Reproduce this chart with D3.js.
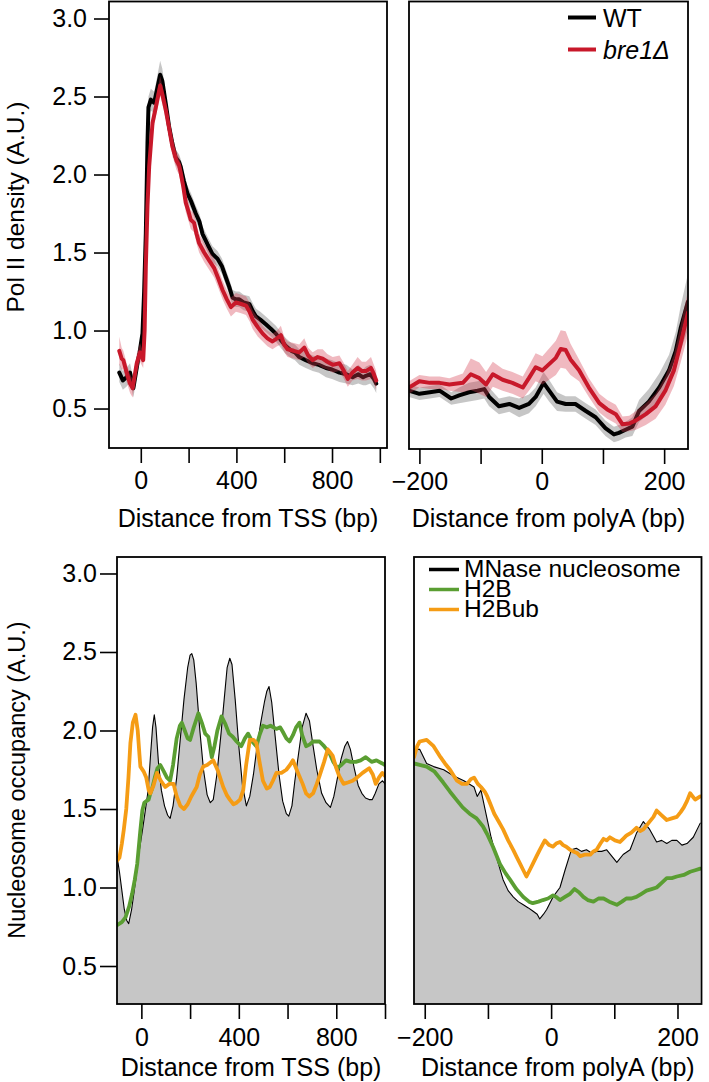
<!DOCTYPE html>
<html><head><meta charset="utf-8">
<script src="https://cdn.jsdelivr.net/npm/d3@7"></script>
<style>
html,body{margin:0;padding:0;background:#fff;}
svg{display:block;font-family:"Liberation Sans",Arial,Helvetica,sans-serif;}
</style></head>
<body>
<svg id="chart" width="709" height="1082"></svg>
<script>
// ---------------- DATA ----------------
// Pol II density around TSS: [bp, value, band half-width]
const polTssWT = [[-90,0.73,0.06],[-75,0.68,0.06],[-60,0.70,0.06],[-45,0.73,0.06],[-31,0.63,0.06],[-15,0.78,0.06],[-5,0.86,0.06],[7,0.98,0.06],[14,1.25,0.06],[21,1.62,0.06],[28,2.2,0.06],[32,2.43,0.07],[42,2.48,0.07],[56,2.46,0.07],[70,2.56,0.08],[81,2.64,0.09],[90,2.60,0.08],[105,2.45,0.06],[118,2.31,0.05],[132,2.20,0.05],[146,2.11,0.05],[160,2.08,0.05],[167,2.05,0.05],[180,1.96,0.05],[195,1.88,0.05],[210,1.83,0.05],[230,1.75,0.05],[245,1.70,0.05],[258,1.62,0.05],[280,1.55,0.05],[300,1.49,0.05],[321,1.46,0.05],[340,1.41,0.05],[356,1.34,0.05],[370,1.28,0.05],[384,1.21,0.05],[398,1.20,0.05],[412,1.20,0.05],[430,1.18,0.05],[454,1.17,0.05],[470,1.12,0.05],[482,1.09,0.05],[500,1.07,0.05],[523,1.04,0.05],[545,1.01,0.05],[565,0.98,0.05],[585,0.94,0.05],[607,0.90,0.05],[630,0.87,0.05],[645,0.86,0.05],[663,0.83,0.05],[690,0.81,0.05],[719,0.79,0.05],[745,0.78,0.05],[775,0.76,0.06],[800,0.75,0.06],[831,0.73,0.06],[860,0.72,0.06],[886,0.70,0.05],[910,0.72,0.06],[930,0.70,0.05],[942,0.71,0.06],[960,0.72,0.06],[975,0.69,0.06],[985,0.66,0.06]];
const polTssBre1 = [[-90,0.87,0.09],[-80,0.82,0.07],[-73,0.81,0.06],[-59,0.73,0.06],[-45,0.66,0.06],[-34,0.63,0.06],[-17,0.79,0.06],[-3,0.86,0.06],[10,0.81,0.05],[16,1.0,0.05],[21,1.41,0.05],[28,1.8,0.05],[35,2.05,0.05],[49,2.33,0.06],[63,2.43,0.06],[72,2.50,0.06],[81,2.57,0.06],[92,2.50,0.06],[105,2.41,0.06],[118,2.30,0.06],[132,2.18,0.06],[149,2.09,0.06],[160,2.06,0.06],[167,2.01,0.06],[178,1.92,0.06],[188,1.82,0.06],[200,1.76,0.06],[209,1.71,0.06],[223,1.69,0.06],[233,1.62,0.06],[244,1.56,0.06],[265,1.50,0.06],[286,1.45,0.06],[307,1.40,0.06],[325,1.33,0.06],[342,1.26,0.06],[360,1.20,0.06],[377,1.15,0.06],[398,1.18,0.06],[420,1.17,0.06],[440,1.16,0.06],[455,1.12,0.06],[468,1.07,0.06],[490,1.02,0.06],[510,0.98,0.05],[530,0.95,0.05],[551,0.93,0.05],[570,0.95,0.05],[586,0.97,0.06],[600,0.91,0.05],[614,0.88,0.05],[640,0.87,0.05],[663,0.86,0.05],[684,0.89,0.06],[700,0.84,0.05],[719,0.81,0.05],[740,0.83,0.05],[761,0.82,0.06],[780,0.80,0.05],[803,0.78,0.05],[831,0.79,0.05],[850,0.74,0.05],[866,0.69,0.05],[885,0.73,0.05],[907,0.76,0.07],[925,0.74,0.06],[942,0.74,0.06],[963,0.76,0.07],[975,0.72,0.06],[985,0.68,0.06]];
// Pol II density around polyA
const polPaWT = [[-217,0.62,0.04],[-200,0.60,0.04],[-183,0.61,0.04],[-167,0.62,0.04],[-148,0.57,0.04],[-135,0.59,0.05],[-119,0.61,0.06],[-105,0.62,0.06],[-94,0.63,0.06],[-86,0.58,0.06],[-70,0.52,0.05],[-53,0.535,0.05],[-37,0.51,0.06],[-21,0.535,0.06],[-10,0.58,0.06],[3,0.67,0.07],[12,0.62,0.07],[25,0.55,0.06],[39,0.535,0.05],[55,0.535,0.05],[72,0.49,0.05],[88,0.45,0.05],[104,0.38,0.05],[118,0.34,0.05],[126,0.35,0.05],[137,0.37,0.05],[148,0.39,0.06],[159,0.49,0.07],[175,0.55,0.08],[192,0.64,0.09],[208,0.75,0.10],[219,0.875,0.12],[227,1.02,0.14],[239,1.19,0.18]];
const polPaBre1 = [[-217,0.64,0.04],[-200,0.68,0.04],[-183,0.67,0.04],[-167,0.67,0.04],[-151,0.66,0.04],[-129,0.67,0.06],[-116,0.725,0.10],[-102,0.70,0.10],[-91,0.66,0.08],[-80,0.725,0.08],[-64,0.69,0.07],[-48,0.67,0.07],[-31,0.64,0.07],[-21,0.70,0.08],[-10,0.77,0.09],[1,0.75,0.09],[12,0.79,0.10],[23,0.83,0.11],[31,0.886,0.12],[39,0.88,0.12],[47,0.82,0.10],[61,0.75,0.07],[77,0.64,0.06],[94,0.54,0.06],[107,0.50,0.06],[121,0.47,0.06],[132,0.405,0.05],[143,0.41,0.05],[154,0.43,0.06],[170,0.47,0.07],[186,0.52,0.08],[202,0.62,0.09],[216,0.75,0.10],[227,0.92,0.12],[239,1.12,0.14]];
// Nucleosome occupancy around TSS: [bp, value]
const nucTssMNase = [[-100,1.20],[-90,1.10],[-80,0.98],[-70,0.86],[-60,0.79],[-52,0.77],[-40,0.86],[-23,1.05],[-10,1.22],[5,1.37],[18,1.51],[28,1.62],[38,1.85],[46,2.02],[53,2.10],[60,2.02],[70,1.80],[82,1.62],[95,1.52],[108,1.46],[118,1.44],[130,1.52],[145,1.70],[160,1.95],[175,2.20],[190,2.40],[200,2.48],[207,2.49],[215,2.45],[225,2.30],[240,2.00],[255,1.75],[270,1.59],[283,1.54],[295,1.56],[310,1.72],[325,1.95],[340,2.20],[352,2.40],[363,2.46],[372,2.42],[385,2.20],[400,1.90],[415,1.65],[431,1.52],[445,1.58],[460,1.72],[475,1.90],[490,2.05],[505,2.18],[515,2.25],[524,2.28],[535,2.18],[550,1.95],[565,1.72],[580,1.55],[595,1.47],[605,1.455],[618,1.52],[630,1.68],[645,1.85],[660,2.02],[676,2.11],[690,2.06],[705,1.90],[720,1.75],[740,1.60],[758,1.54],[776,1.51],[790,1.58],[805,1.70],[820,1.82],[835,1.90],[846,1.93],[858,1.88],[875,1.75],[890,1.65],[905,1.60],[920,1.57],[935,1.56],[948,1.56],[960,1.60],[975,1.66],[990,1.68],[1000,1.66]];
const nucTssH2B = [[-100,0.76],[-90,0.77],[-80,0.78],[-65,0.81],[-50,0.88],[-38,0.96],[-27,1.05],[-17,1.15],[-5,1.35],[4,1.49],[12,1.54],[20,1.55],[30,1.56],[37,1.60],[44,1.63],[55,1.70],[66,1.76],[78,1.78],[92,1.74],[105,1.70],[118,1.68],[130,1.78],[145,1.95],[158,2.03],[166,2.05],[178,2.00],[190,1.95],[200,1.94],[215,2.02],[234,2.11],[248,2.05],[262,1.98],[275,1.96],[289,1.83],[300,1.90],[312,2.00],[329,2.09],[345,2.04],[360,1.98],[375,1.96],[391,1.93],[410,1.90],[425,1.95],[438,1.98],[455,1.93],[472,1.90],[485,1.97],[499,2.03],[515,2.02],[530,2.03],[554,2.01],[570,2.02],[581,1.99],[595,1.95],[608,1.93],[622,1.97],[635,2.02],[649,2.05],[660,1.97],[676,1.90],[690,1.91],[705,1.93],[731,1.93],[750,1.90],[771,1.86],[788,1.80],[805,1.76],[820,1.78],[840,1.81],[860,1.80],[880,1.80],[900,1.81],[921,1.83],[945,1.80],[965,1.81],[989,1.79],[1000,1.78]];
const nucTssH2Bub = [[-100,1.17],[-90,1.19],[-80,1.28],[-72,1.37],[-62,1.50],[-53,1.70],[-45,1.92],[-35,2.05],[-24,2.10],[-15,2.0],[-8,1.85],[-4,1.77],[9,1.74],[20,1.70],[30,1.62],[37,1.60],[50,1.65],[64,1.73],[80,1.68],[98,1.64],[115,1.66],[132,1.66],[145,1.58],[160,1.52],[175,1.50],[190,1.53],[205,1.58],[227,1.64],[240,1.72],[254,1.77],[270,1.78],[295,1.81],[315,1.74],[336,1.64],[350,1.59],[363,1.56],[378,1.53],[391,1.54],[405,1.56],[418,1.62],[430,1.78],[445,1.94],[460,1.94],[472,1.92],[485,1.80],[499,1.68],[515,1.63],[527,1.64],[540,1.68],[554,1.73],[575,1.73],[595,1.75],[610,1.78],[622,1.81],[640,1.74],[662,1.66],[676,1.60],[689,1.58],[705,1.60],[720,1.66],[731,1.71],[750,1.80],[765,1.88],[775,1.86],[785,1.84],[800,1.76],[812,1.71],[830,1.66],[850,1.67],[867,1.68],[885,1.70],[908,1.73],[935,1.76],[950,1.72],[962,1.66],[975,1.70],[989,1.73],[1000,1.71]];
// Nucleosome occupancy around polyA
const nucPaMNase = [[-217,1.88],[-208,1.88],[-197,1.79],[-186,1.77],[-170,1.75],[-154,1.71],[-138,1.68],[-122,1.64],[-117,1.58],[-111,1.62],[-102,1.45],[-95,1.32],[-87,1.20],[-76,1.05],[-68,0.98],[-60,0.94],[-52,0.91],[-44,0.89],[-36,0.87],[-29,0.85],[-22,0.83],[-18,0.80],[-12,0.83],[-7,0.86],[3,0.94],[14,1.00],[22,1.11],[32,1.24],[40,1.25],[48,1.23],[56,1.24],[64,1.22],[72,1.23],[80,1.23],[88,1.24],[96,1.20],[104,1.16],[114,1.21],[125,1.24],[135,1.345],[146,1.42],[156,1.37],[167,1.29],[175,1.30],[183,1.28],[191,1.30],[199,1.30],[207,1.27],[215,1.28],[225,1.32],[236,1.41]];
const nucPaH2B = [[-217,1.79],[-197,1.77],[-185,1.74],[-171,1.67],[-160,1.61],[-150,1.56],[-140,1.51],[-129,1.47],[-118,1.44],[-108,1.39],[-100,1.33],[-92,1.26],[-81,1.15],[-72,1.09],[-65,1.05],[-55,0.99],[-44,0.94],[-35,0.91],[-29,0.90],[-20,0.91],[-13,0.92],[-5,0.93],[3,0.95],[8,0.94],[14,0.92],[22,0.94],[30,0.96],[37,0.99],[44,0.97],[51,0.94],[58,0.92],[67,0.91],[75,0.93],[83,0.93],[92,0.91],[104,0.89],[112,0.91],[119,0.93],[127,0.93],[135,0.94],[143,0.96],[151,0.98],[159,0.99],[167,1.00],[175,1.03],[183,1.06],[191,1.06],[199,1.07],[210,1.08],[220,1.10],[228,1.11],[236,1.12]];
const nucPaH2Bub = [[-217,1.83],[-212,1.90],[-208,1.93],[-197,1.94],[-186,1.90],[-175,1.83],[-168,1.79],[-160,1.75],[-149,1.68],[-141,1.66],[-133,1.66],[-127,1.69],[-122,1.70],[-116,1.66],[-111,1.64],[-105,1.61],[-101,1.58],[-96,1.53],[-90,1.47],[-83,1.42],[-76,1.37],[-68,1.30],[-60,1.24],[-54,1.19],[-49,1.15],[-44,1.11],[-39,1.07],[-34,1.11],[-29,1.15],[-23,1.20],[-18,1.24],[-10,1.30],[-3,1.27],[3,1.26],[8,1.28],[14,1.29],[19,1.27],[24,1.26],[30,1.24],[35,1.23],[41,1.22],[46,1.20],[54,1.21],[62,1.21],[67,1.23],[72,1.24],[78,1.28],[83,1.31],[88,1.30],[93,1.32],[101,1.30],[109,1.29],[114,1.31],[119,1.33],[127,1.35],[135,1.38],[141,1.36],[146,1.37],[154,1.41],[162,1.45],[167,1.49],[175,1.46],[183,1.43],[191,1.44],[199,1.45],[205,1.48],[210,1.51],[215,1.55],[220,1.60],[228,1.56],[236,1.58]];

const yTicks = [0.5, 1.0, 1.5, 2.0, 2.5, 3.0];
const tssTicks = [0, 200, 400, 600, 800, 1000];
const tssLabels = [0, 400, 800];
const paTicks = [-200, -100, 0, 100, 200];
const paLabels = [-200, 0, 200];
const legendPol = ["WT", "bre1Δ"];
const legendNuc = ["MNase nucleosome", "H2B", "H2Bub"];
const yTitlePol = "Pol II density (A.U.)";
const yTitleNuc = "Nucleosome occupancy (A.U.)";
const xTitleTss = "Distance from TSS (bp)";
const xTitlePa = "Distance from polyA (bp)";

// ---------------- STYLE ----------------
const C = {black:"#000", red:"#c8182a", grayBand:"rgba(120,120,120,0.42)", pinkBand:"rgba(214,60,80,0.36)",
           fill:"#c6c6c6", green:"#5a9e32", orange:"#f59c15"};
const FS = 25;

const svg = d3.select("#chart");
const fmtX = d => d < 0 ? "\u2212" + Math.abs(d) : String(d);

let clipId = 0;
function panel(o) {
  const x = d3.scaleLinear().domain(o.xd).range([o.x0, o.x1]);
  const y = d3.scaleLinear().domain(o.yd).range([o.y1, o.y0]);
  const id = "clip" + (clipId++);
  svg.append("clipPath").attr("id", id).append("rect")
    .attr("x", o.x0).attr("y", o.y0).attr("width", o.x1 - o.x0).attr("height", o.y1 - o.y0);
  const g = svg.append("g").attr("clip-path", `url(#${id})`);
  const ax = svg.append("g").attr("transform", `translate(0,${o.y1})`)
    .call(d3.axisBottom(x).tickValues(o.ticks).tickSize(15).tickPadding(o.xPad)
      .tickFormat(d => o.labels.includes(d) ? fmtX(d) : ""));
  ax.select(".domain").remove();
  ax.selectAll("line").attr("stroke", "#000").attr("stroke-width", 1.6);
  ax.selectAll("text").attr("font-size", FS).attr("fill", "#000").style("font-family", "Liberation Sans, Arial, sans-serif");
  svg.append("text").attr("x", (o.x0 + o.x1) / 2).attr("y", o.titleY)
    .attr("text-anchor", "middle").attr("font-size", FS).text(o.xTitle);
  if (o.yAxis) {
    const ay = svg.append("g").attr("transform", `translate(${o.x0},0)`)
      .call(d3.axisLeft(y).tickValues(yTicks).tickSize(o.ySize).tickPadding(o.yPad).tickFormat(d3.format(".1f")));
    ay.select(".domain").remove();
    ay.selectAll("line").attr("stroke", "#000").attr("stroke-width", 1.6);
    ay.selectAll("text").attr("font-size", FS).attr("fill", "#000").style("font-family", "Liberation Sans, Arial, sans-serif");
    svg.append("text").attr("transform", `translate(${o.yTitleX},${o.yTitleY}) rotate(-90)`)
      .attr("text-anchor", "middle").attr("font-size", o.yTitleFS).text(o.yTitle);
  }
  return {x, y, g, o};
}
function box(p) {
  const o = p.o;
  svg.append("rect").attr("x", o.x0).attr("y", o.y0).attr("width", o.x1 - o.x0).attr("height", o.y1 - o.y0)
    .attr("fill", "none").attr("stroke", "#000").attr("stroke-width", 1.8);
}
function band(p, data, color) {
  p.g.append("path").datum(data).attr("fill", color)
    .attr("d", d3.area().x(d => p.x(d[0])).y0(d => p.y(d[1] - d[2])).y1(d => p.y(d[1] + d[2])));
}
function line(p, data, color, w) {
  p.g.append("path").datum(data).attr("fill", "none").attr("stroke", color).attr("stroke-width", w)
    .attr("stroke-linejoin", "round").attr("stroke-linecap", "round")
    .attr("d", d3.line().x(d => p.x(d[0])).y(d => p.y(d[1])));
}
function fillArea(p, data) {
  p.g.append("path").datum(data).attr("fill", C.fill)
    .attr("d", d3.area().x(d => p.x(d[0])).y0(p.o.y1 + 5).y1(d => p.y(d[1])));
}

// ---------------- TOP LEFT ----------------
const tl = panel({x0:109, x1:387, y0:1.5, y1:448, xd:[-133,1030], yd:[0.247,3.109],
  ticks:tssTicks, labels:tssLabels, xPad:8, xTitle:xTitleTss, titleY:527,
  yAxis:true, ySize:15, yPad:7, yTitle:yTitlePol, yTitleX:24, yTitleY:207, yTitleFS:24.5});
band(tl, polTssWT, C.grayBand);
line(tl, polTssWT, C.black, 4);
band(tl, polTssBre1, C.pinkBand);
line(tl, polTssBre1, C.red, 4);
box(tl);

// ---------------- TOP RIGHT ----------------
const tr = panel({x0:409, x1:688, y0:1.5, y1:449, xd:[-217,239], yd:[0.247,3.109],
  ticks:paTicks, labels:paLabels, xPad:8, xTitle:xTitlePa, titleY:527, yAxis:false});
band(tr, polPaWT, C.grayBand);
line(tr, polPaWT, C.black, 4);
band(tr, polPaBre1, C.pinkBand);
line(tr, polPaBre1, C.red, 4);
box(tr);
const legPolCol = [C.black, C.red];
legendPol.forEach((t, i) => {
  const yy = 17.5 + i * 32;
  svg.append("line").attr("x1", 568).attr("x2", 596).attr("y1", yy).attr("y2", yy)
    .attr("stroke", legPolCol[i]).attr("stroke-width", 4);
  svg.append("text").attr("x", 603).attr("y", yy + 9.3).attr("font-size", FS)
    .attr("font-style", i === 1 ? "italic" : "normal").text(t);
});

// ---------------- BOTTOM LEFT ----------------
const bl = panel({x0:117, x1:385, y0:557, y1:1004, xd:[-100,1000], yd:[0.258,3.105],
  ticks:tssTicks, labels:tssLabels, xPad:9.5, xTitle:xTitleTss, titleY:1076,
  yAxis:true, ySize:17, yPad:3, yTitle:yTitleNuc, yTitleX:25, yTitleY:780, yTitleFS:23.5});
fillArea(bl, nucTssMNase);
line(bl, nucTssMNase, C.black, 1.1);
line(bl, nucTssH2B, C.green, 3.8);
line(bl, nucTssH2Bub, C.orange, 3.8);
box(bl);

// ---------------- BOTTOM RIGHT ----------------
const br = panel({x0:414, x1:701.5, y0:557, y1:1004, xd:[-217,238], yd:[0.258,3.105],
  ticks:paTicks, labels:paLabels, xPad:9.5, xTitle:xTitlePa, titleY:1076, yAxis:false});
fillArea(br, nucPaMNase);
line(br, nucPaMNase, C.black, 1.1);
line(br, nucPaH2B, C.green, 3.8);
line(br, nucPaH2Bub, C.orange, 3.8);
box(br);
const legNucCol = [C.black, C.green, C.orange];
legendNuc.forEach((t, i) => {
  const yy = 569.5 + i * 20;
  svg.append("line").attr("x1", 429).attr("x2", 459).attr("y1", yy).attr("y2", yy)
    .attr("stroke", legNucCol[i]).attr("stroke-width", 3.5);
  svg.append("text").attr("x", 464).attr("y", yy + 7.5).attr("font-size", 24.5).text(t);
});
</script>
</body></html>
